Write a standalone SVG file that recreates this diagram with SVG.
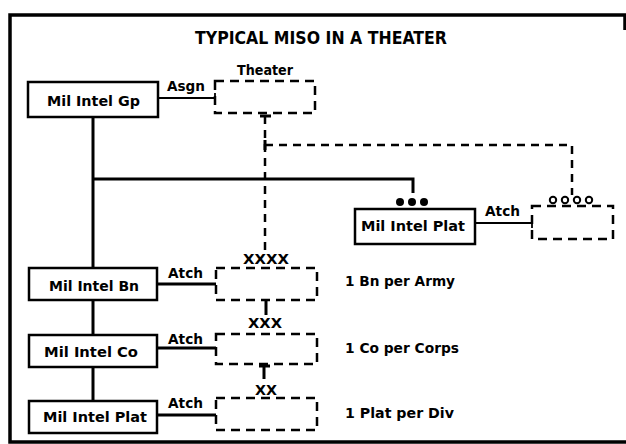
<svg xmlns="http://www.w3.org/2000/svg" width="626" height="444" viewBox="0 0 626 444">
<style>
text{font-family:"DejaVu Sans","Liberation Sans",sans-serif;font-weight:bold;fill:#000}
.lbl{font-size:13.5px}
.nt{font-size:14px;text-anchor:middle}
.box{fill:#fff;stroke:#000;stroke-width:2.5}
.dbox{fill:none;stroke:#000;stroke-width:2.5;stroke-dasharray:9 6}
.solid{fill:none;stroke:#000;stroke-width:3}
.thin{fill:none;stroke:#000;stroke-width:1.8}
.dash{fill:none;stroke:#000;stroke-width:2.5;stroke-dasharray:8 6}
</style>
<rect width="626" height="444" fill="#fff"/>
<path d="M625,30 V15 H10 V442 H626" fill="none" stroke="#000" stroke-width="3.5"/>
<text x="321" y="44" font-size="17" text-anchor="middle" textLength="252" lengthAdjust="spacingAndGlyphs">TYPICAL MISO IN A THEATER</text>

<g id="connectors">
<path class="solid" d="M93,117 V268 M93,300 V335 M93,367 V401"/>
<path class="solid" d="M93,179 H413 V193"/>
<path class="thin" d="M158,98 H215 M215,93 V103"/>
<path class="solid" d="M157,284 H216 M157,348 H216 M157,415 H216"/>
<path class="thin" d="M475,223 H532 M532,218 V228"/>
<path class="solid" d="M260,116 H271"/>
<path class="dash" d="M265,116 V250"/>
<path class="solid" d="M265,140 V150"/>
<path class="dash" d="M265,145 H572 V195"/>
<path class="solid" d="M266,300 V315"/>
<path class="solid" d="M259,366 H270 M264,366 V379"/>
</g>

<g id="mil-intel-gp">
<rect class="box" x="28" y="82" width="130" height="35"/>
<text class="nt" x="93.5" y="106" textLength="93" lengthAdjust="spacingAndGlyphs">Mil Intel Gp</text>
</g>
<g id="asgn-label"><text class="lbl" x="167" y="91" textLength="38" lengthAdjust="spacingAndGlyphs">Asgn</text></g>
<g id="theater">
<rect class="dbox" x="215" y="81" width="100" height="32"/>
<text class="lbl" x="237" y="75" textLength="56" lengthAdjust="spacingAndGlyphs">Theater</text>
</g>

<g id="dots">
<circle cx="400" cy="202" r="4"/>
<circle cx="412" cy="202" r="4"/>
<circle cx="424" cy="202" r="4"/>
</g>
<g id="mil-intel-plat-right">
<rect class="box" x="355" y="209" width="120" height="35"/>
<text class="nt" x="413" y="231" textLength="104" lengthAdjust="spacingAndGlyphs">Mil Intel Plat</text>
</g>
<g id="atch-right"><text class="lbl" x="485" y="216" textLength="35" lengthAdjust="spacingAndGlyphs">Atch</text></g>
<g id="right-unit">
<rect class="dbox" x="532" y="206" width="81" height="33"/>
<g fill="none" stroke="#000" stroke-width="2">
<circle cx="553" cy="200" r="3.2"/>
<circle cx="565" cy="200" r="3.2"/>
<circle cx="577" cy="200" r="3.2"/>
<circle cx="589" cy="200" r="3.2"/>
</g>
</g>

<g id="army">
<text class="lbl" x="243" y="264" textLength="46" lengthAdjust="spacingAndGlyphs">XXXX</text>
<rect class="dbox" x="216" y="268" width="101" height="32"/>
<text class="lbl" x="345" y="286" textLength="110" lengthAdjust="spacingAndGlyphs">1 Bn per Army</text>
</g>
<g id="mil-intel-bn">
<rect class="box" x="29" y="268" width="128" height="32"/>
<text class="nt" x="94" y="291" textLength="90" lengthAdjust="spacingAndGlyphs">Mil Intel Bn</text>
<text class="lbl" x="168" y="278" textLength="35" lengthAdjust="spacingAndGlyphs">Atch</text>
</g>

<g id="corps">
<text class="lbl" x="248" y="328" textLength="34" lengthAdjust="spacingAndGlyphs">XXX</text>
<rect class="dbox" x="216" y="334" width="101" height="30"/>
<text class="lbl" x="345" y="353" textLength="114" lengthAdjust="spacingAndGlyphs">1 Co per Corps</text>
</g>
<g id="mil-intel-co">
<rect class="box" x="29" y="335" width="128" height="32"/>
<text class="nt" x="91" y="357" textLength="94" lengthAdjust="spacingAndGlyphs">Mil Intel Co</text>
<text class="lbl" x="168" y="344" textLength="35" lengthAdjust="spacingAndGlyphs">Atch</text>
</g>

<g id="division">
<text class="lbl" x="255" y="395" textLength="22" lengthAdjust="spacingAndGlyphs">XX</text>
<rect class="dbox" x="216" y="398" width="101" height="32"/>
<text class="lbl" x="345" y="418" textLength="109" lengthAdjust="spacingAndGlyphs">1 Plat per Div</text>
</g>
<g id="mil-intel-plat">
<rect class="box" x="29" y="401" width="128" height="32"/>
<text class="nt" x="95" y="422" textLength="104" lengthAdjust="spacingAndGlyphs">Mil Intel Plat</text>
<text class="lbl" x="168" y="408" textLength="35" lengthAdjust="spacingAndGlyphs">Atch</text>
</g>
</svg>
